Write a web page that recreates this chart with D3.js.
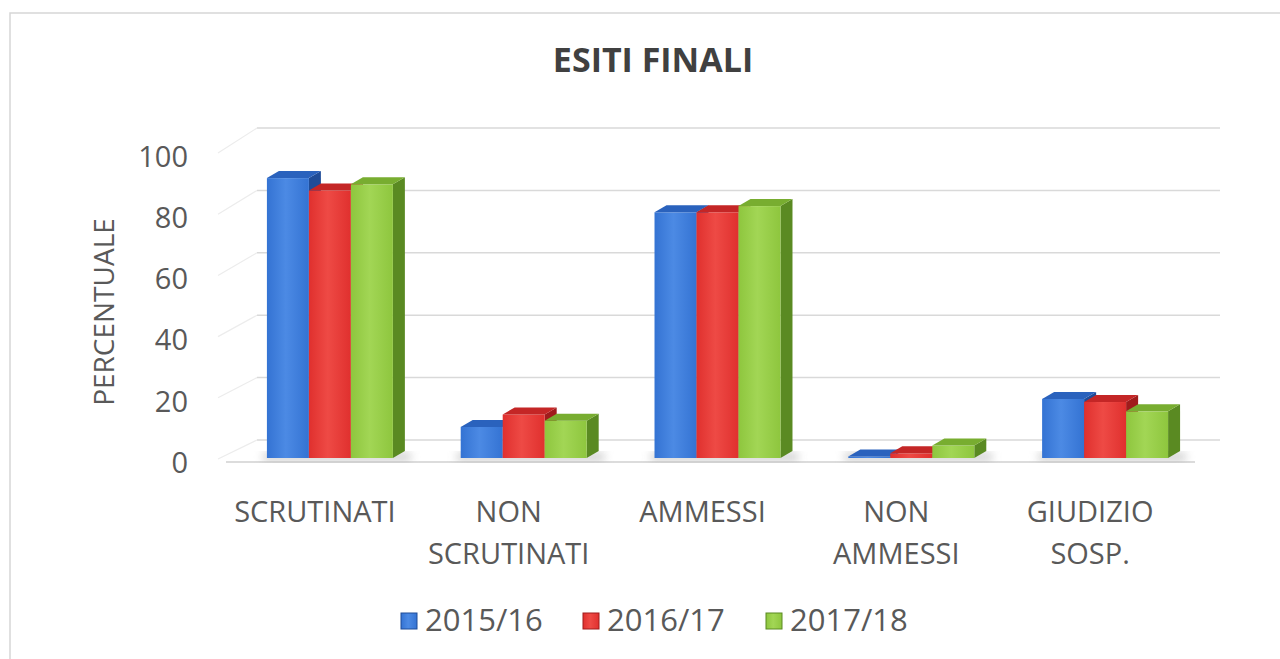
<!DOCTYPE html>
<html>
<head>
<meta charset="utf-8">
<script src="https://cdn.jsdelivr.net/npm/d3@7"></script>
<style>
  body { margin: 0; background: #fff; }
  text { font-family: "Open Sans", "Liberation Sans", sans-serif; fill: #595959; }
</style>
</head>
<body>
<div id="viz-container"></div>
<script>
// data
const categories = [["SCRUTINATI"], ["NON", "SCRUTINATI"], ["AMMESSI"], ["NON", "AMMESSI"], ["GIUDIZIO", "SOSP."]];
const seriesNames = ["2015/16", "2016/17", "2017/18"];
const v2015 = [90, 10, 79, 0.5, 19];
const v2016 = [86, 14, 79, 1.5, 18];
const v2017 = [88, 12, 81, 4, 15];
const yTicks = [0, 20, 40, 60, 80, 100];

const seriesValues = [v2015, v2016, v2017];
const colors = [
    { front: "#3473d3", light: "#4c8ae4", side: "#1f4c98", top: "#2a62bd" },
    { front: "#e0302e", light: "#ee4a45", side: "#a01c1c", top: "#c42626" },
    { front: "#8ec63e", light: "#a2d655", side: "#5a8a22", top: "#78ad30" }
];

const W = 1280, H = 659;
const svg = d3.select("#viz-container")
    .append("svg")
    .attr("width", W)
    .attr("height", H);

const defs = svg.append("defs");
colors.forEach((c, i) => {
    const g = defs.append("linearGradient").attr("id", "grad" + i)
        .attr("x1", "0").attr("x2", "1").attr("y1", "0").attr("y2", "0");
    g.append("stop").attr("offset", "0").attr("stop-color", c.front);
    g.append("stop").attr("offset", "0.45").attr("stop-color", c.light);
    g.append("stop").attr("offset", "1").attr("stop-color", c.front);
});
defs.append("filter").attr("id", "blur")
    .append("feGaussianBlur").attr("stdDeviation", 4);

// chart frame
svg.append("rect")
    .attr("x", 10).attr("y", 13)
    .attr("width", W + 20).attr("height", H + 20)
    .attr("fill", "none")
    .attr("stroke", "#d6d6d6")
    .attr("stroke-width", 1.5);

// scales
const x0 = d3.scaleBand()
    .domain(d3.range(categories.length))
    .range([233, 1202])
    .paddingInner(0.35)
    .paddingOuter(0.175);

const x1 = d3.scaleBand()
    .domain(d3.range(seriesNames.length))
    .range([0, x0.bandwidth()]);

const yBack = d3.scaleLinear().domain([0, 100]).range([440, 128]);
const yFront = d3.scaleLinear().domain([0, 100]).range([458, 147]);
const yAxisScale = d3.scaleLinear().domain([0, 100]).range([463, 157]);

const depthX = 12, depthY = 7;

// back wall gridlines
svg.append("g").selectAll("line")
    .data(yTicks)
    .join("line")
    .attr("x1", 257).attr("x2", 1220)
    .attr("y1", d => yBack(d)).attr("y2", d => yBack(d))
    .attr("stroke", "#d9d9d9")
    .attr("stroke-width", 1.5);

// side wall gridlines
svg.append("g").selectAll("line")
    .data(yTicks)
    .join("line")
    .attr("x1", 257).attr("y1", d => yBack(d))
    .attr("x2", 218).attr("y2", d => yAxisScale(d) - 4)
    .attr("stroke", "#ececec")
    .attr("stroke-width", 1.2);

// floor
svg.append("line")
    .attr("x1", 226).attr("x2", 1195)
    .attr("y1", 462).attr("y2", 462)
    .attr("stroke", "#dcdcdc").attr("stroke-width", 2);

// y axis labels
const yAxis = svg.append("g")
    .attr("transform", "translate(188,0)")
    .call(d3.axisLeft(yAxisScale).tickValues(yTicks).tickSize(0).tickPadding(0));
yAxis.select(".domain").remove();
yAxis.selectAll("text")
    .attr("font-size", "29px")
    .attr("fill", "#595959")
    .style("font-family", "'Open Sans', sans-serif");

svg.append("text")
    .attr("transform", "translate(114,312) rotate(-90)")
    .attr("text-anchor", "middle")
    .attr("font-size", "28px")
    .text("PERCENTUALE");

// bars
const groups = svg.append("g").selectAll("g")
    .data(categories.map((c, i) => i))
    .join("g")
    .attr("transform", i => `translate(${x0(i)},0)`);

groups.each(function (ci) {
    const g = d3.select(this);
    // shadow
    g.append("rect")
        .attr("x", -4).attr("y", 452)
        .attr("width", x0.bandwidth() + depthX + 10).attr("height", 10)
        .attr("fill", "#bbbbbb").attr("opacity", 0.6)
        .attr("filter", "url(#blur)");
    seriesValues.forEach((vals, si) => {
        const c = colors[si];
        const bx = x1(si), bw = x1.bandwidth();
        const top = yFront(vals[ci]), bottom = yFront(0);
        // side face
        g.append("path")
            .attr("d", `M${bx + bw},${top} L${bx + bw + depthX},${top - depthY} L${bx + bw + depthX},${bottom - depthY} L${bx + bw},${bottom} Z`)
            .attr("fill", c.side);
        // front face
        g.append("rect")
            .attr("x", bx).attr("y", top)
            .attr("width", bw).attr("height", bottom - top)
            .attr("fill", `url(#grad${si})`);
        // top face
        g.append("path")
            .attr("d", `M${bx},${top} L${bx + depthX},${top - depthY} L${bx + bw + depthX},${top - depthY} L${bx + bw},${top} Z`)
            .attr("fill", c.top);
    });
});

// category labels
const labels = svg.append("g").selectAll("text")
    .data(categories)
    .join("text")
    .attr("x", (d, i) => x0(i) + x0.bandwidth() / 2 - 15)
    .attr("y", 522)
    .attr("text-anchor", "middle")
    .attr("font-size", "29px");
labels.selectAll("tspan")
    .data(d => d)
    .join("tspan")
    .attr("x", function () { return d3.select(this.parentNode).attr("x"); })
    .attr("dy", (d, i) => i === 0 ? 0 : 42)
    .text(d => d);

// title
svg.append("text")
    .attr("x", 653).attr("y", 72)
    .attr("text-anchor", "middle")
    .attr("font-size", "34px")
    .attr("font-weight", "bold")
    .style("fill", "#404040")
    .text("ESITI FINALI");

// legend
const legendX = [401, 583, 766];
const legend = svg.append("g").selectAll("g")
    .data(seriesNames)
    .join("g")
    .attr("transform", (d, i) => `translate(${legendX[i]},613)`);
legend.append("rect")
    .attr("width", 16).attr("height", 16)
    .attr("fill", (d, i) => `url(#grad${i})`)
    .attr("stroke", (d, i) => colors[i].side)
    .attr("stroke-width", 1);
legend.append("text")
    .attr("x", 24).attr("y", 18)
    .attr("font-size", "31px")
    .text(d => d);
</script>
</body>
</html>
